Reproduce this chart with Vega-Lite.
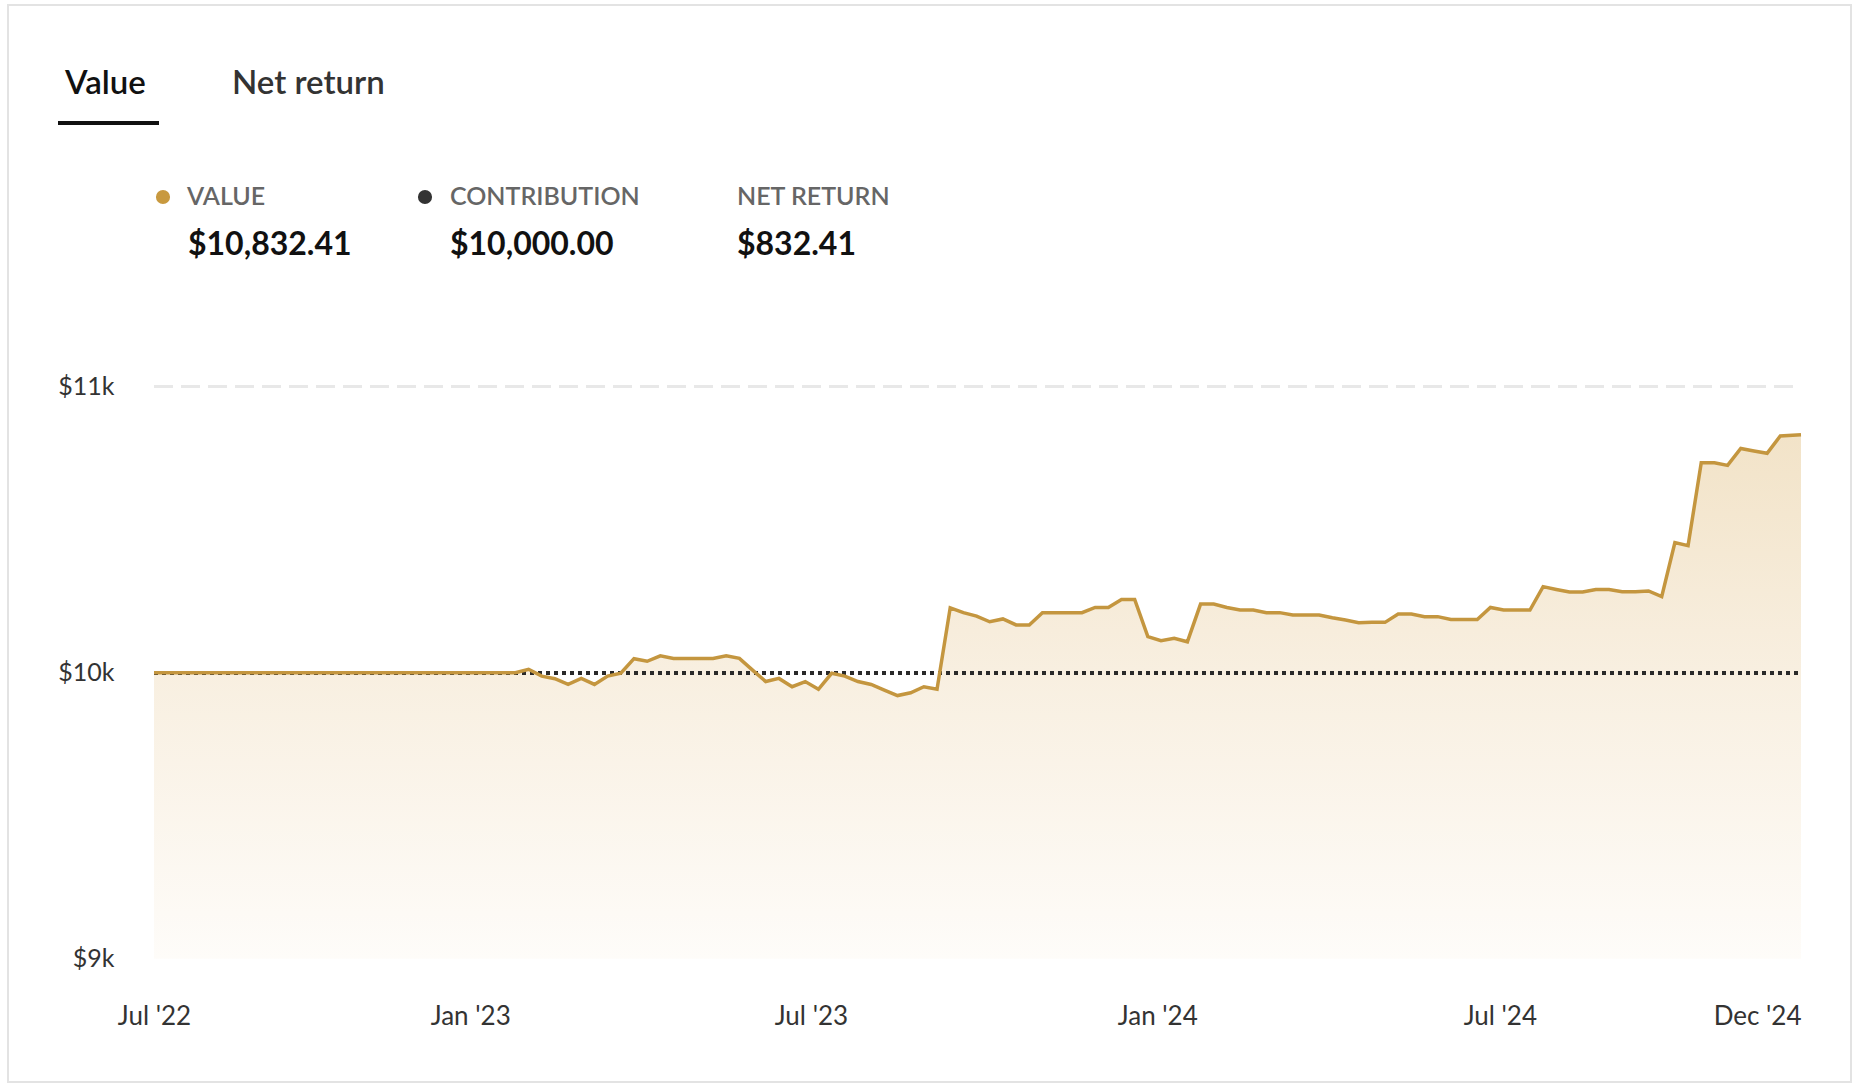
{
  "$schema": "https://vega.github.io/schema/vega-lite/v6.json",
  "width": 1843,
  "height": 1077,
  "autosize": {"type": "none"},
  "padding": {"left": 8, "top": 5, "right": 11, "bottom": 8},
  "background": "#ffffff",
  "config": {
    "view": {"stroke": "#e3e3e3", "strokeWidth": 2},
    "font": "Lato",
    "text": {"font": "Lato"}
  },
  "data": {
    "format": {"parse": {"date": "date:'%Y-%m-%d'"}},
    "values": [
      {"date": "2022-07-17", "value": 10000},
      {"date": "2022-07-20", "value": 10000},
      {"date": "2022-07-27", "value": 10000},
      {"date": "2022-08-03", "value": 10000},
      {"date": "2022-08-10", "value": 10000},
      {"date": "2022-08-17", "value": 10000},
      {"date": "2022-08-24", "value": 10000},
      {"date": "2022-08-31", "value": 10000},
      {"date": "2022-09-07", "value": 10000},
      {"date": "2022-09-14", "value": 10000},
      {"date": "2022-09-21", "value": 10000},
      {"date": "2022-09-28", "value": 10000},
      {"date": "2022-10-05", "value": 10000},
      {"date": "2022-10-12", "value": 10000},
      {"date": "2022-10-19", "value": 10000},
      {"date": "2022-10-26", "value": 10000},
      {"date": "2022-11-02", "value": 10000},
      {"date": "2022-11-09", "value": 10000},
      {"date": "2022-11-16", "value": 10000},
      {"date": "2022-11-23", "value": 10000},
      {"date": "2022-11-30", "value": 10000},
      {"date": "2022-12-07", "value": 10000},
      {"date": "2022-12-14", "value": 10000},
      {"date": "2022-12-21", "value": 10000},
      {"date": "2022-12-28", "value": 10000},
      {"date": "2023-01-04", "value": 10000},
      {"date": "2023-01-11", "value": 10000},
      {"date": "2023-01-18", "value": 10000},
      {"date": "2023-01-25", "value": 10000},
      {"date": "2023-02-01", "value": 10012},
      {"date": "2023-02-08", "value": 9988},
      {"date": "2023-02-15", "value": 9979},
      {"date": "2023-02-22", "value": 9959},
      {"date": "2023-03-01", "value": 9980},
      {"date": "2023-03-08", "value": 9959},
      {"date": "2023-03-15", "value": 9988},
      {"date": "2023-03-22", "value": 9998},
      {"date": "2023-03-29", "value": 10049},
      {"date": "2023-04-05", "value": 10040},
      {"date": "2023-04-12", "value": 10059},
      {"date": "2023-04-19", "value": 10050},
      {"date": "2023-04-26", "value": 10050},
      {"date": "2023-05-03", "value": 10050},
      {"date": "2023-05-10", "value": 10050},
      {"date": "2023-05-17", "value": 10059},
      {"date": "2023-05-24", "value": 10050},
      {"date": "2023-05-31", "value": 10009},
      {"date": "2023-06-07", "value": 9969},
      {"date": "2023-06-14", "value": 9980},
      {"date": "2023-06-21", "value": 9951},
      {"date": "2023-06-28", "value": 9969},
      {"date": "2023-07-05", "value": 9942},
      {"date": "2023-07-12", "value": 9998},
      {"date": "2023-07-19", "value": 9988},
      {"date": "2023-07-26", "value": 9969},
      {"date": "2023-08-02", "value": 9959},
      {"date": "2023-08-09", "value": 9939},
      {"date": "2023-08-16", "value": 9920},
      {"date": "2023-08-23", "value": 9930},
      {"date": "2023-08-30", "value": 9951},
      {"date": "2023-09-06", "value": 9942},
      {"date": "2023-09-13", "value": 10227},
      {"date": "2023-09-20", "value": 10210},
      {"date": "2023-09-27", "value": 10198},
      {"date": "2023-10-04", "value": 10178},
      {"date": "2023-10-11", "value": 10188},
      {"date": "2023-10-18", "value": 10167},
      {"date": "2023-10-25", "value": 10167},
      {"date": "2023-11-01", "value": 10210},
      {"date": "2023-11-08", "value": 10210},
      {"date": "2023-11-15", "value": 10210},
      {"date": "2023-11-22", "value": 10210},
      {"date": "2023-11-29", "value": 10228},
      {"date": "2023-12-06", "value": 10228},
      {"date": "2023-12-13", "value": 10256},
      {"date": "2023-12-20", "value": 10256},
      {"date": "2023-12-27", "value": 10126},
      {"date": "2024-01-03", "value": 10112},
      {"date": "2024-01-10", "value": 10120},
      {"date": "2024-01-17", "value": 10108},
      {"date": "2024-01-24", "value": 10240},
      {"date": "2024-01-31", "value": 10240},
      {"date": "2024-02-07", "value": 10228},
      {"date": "2024-02-14", "value": 10219},
      {"date": "2024-02-21", "value": 10219},
      {"date": "2024-02-28", "value": 10210},
      {"date": "2024-03-06", "value": 10210},
      {"date": "2024-03-13", "value": 10202},
      {"date": "2024-03-20", "value": 10202},
      {"date": "2024-03-27", "value": 10202},
      {"date": "2024-04-03", "value": 10192},
      {"date": "2024-04-10", "value": 10184},
      {"date": "2024-04-17", "value": 10175},
      {"date": "2024-04-24", "value": 10176},
      {"date": "2024-05-01", "value": 10176},
      {"date": "2024-05-08", "value": 10205},
      {"date": "2024-05-15", "value": 10205},
      {"date": "2024-05-22", "value": 10196},
      {"date": "2024-05-29", "value": 10196},
      {"date": "2024-06-05", "value": 10186},
      {"date": "2024-06-12", "value": 10186},
      {"date": "2024-06-19", "value": 10186},
      {"date": "2024-06-26", "value": 10228},
      {"date": "2024-07-03", "value": 10219},
      {"date": "2024-07-10", "value": 10219},
      {"date": "2024-07-17", "value": 10219},
      {"date": "2024-07-24", "value": 10301},
      {"date": "2024-07-31", "value": 10291},
      {"date": "2024-08-07", "value": 10282},
      {"date": "2024-08-14", "value": 10282},
      {"date": "2024-08-21", "value": 10291},
      {"date": "2024-08-28", "value": 10291},
      {"date": "2024-09-04", "value": 10283},
      {"date": "2024-09-11", "value": 10283},
      {"date": "2024-09-18", "value": 10286},
      {"date": "2024-09-25", "value": 10266},
      {"date": "2024-10-02", "value": 10455},
      {"date": "2024-10-09", "value": 10444},
      {"date": "2024-10-16", "value": 10734},
      {"date": "2024-10-23", "value": 10734},
      {"date": "2024-10-30", "value": 10725},
      {"date": "2024-11-06", "value": 10784},
      {"date": "2024-11-13", "value": 10775},
      {"date": "2024-11-20", "value": 10767},
      {"date": "2024-11-27", "value": 10828},
      {"date": "2024-12-08", "value": 10832.41}
    ]
  },
  "layer": [
    {
      "mark": {
        "type": "area",
        "opacity": 1,
        "line": false,
        "color": {
          "gradient": "linear",
          "x1": 0, "y1": 1, "x2": 0, "y2": 0,
          "stops": [
            {"offset": 0, "color": "#fefcf9"},
            {"offset": 0.55, "color": "#f8efe0"},
            {"offset": 1, "color": "#f2e3c8"}
          ]
        }
      },
      "encoding": {
        "x": {
          "field": "date", "type": "temporal",
          "scale": {"domain": [{"year": 2022, "month": 7, "date": 17}, {"year": 2024, "month": 12, "date": 8}], "range": [146, 1793]},
          "axis": {
            "title": null,
            "values": [
              {"year": 2022, "month": 7, "date": 17},
              {"year": 2023, "month": 1, "date": 1},
              {"year": 2023, "month": 7, "date": 1},
              {"year": 2024, "month": 1, "date": 1},
              {"year": 2024, "month": 7, "date": 1},
              {"year": 2024, "month": 12, "date": 8}
            ],
            "format": "%b '%y",
            "labelAlign": {"condition": {"test": "year(datum.value) == 2024 && month(datum.value) == 11", "value": "right"}, "value": "center"},
            "labelFlush": false,
            "labelOverlap": false,
            "labelBound": false,
            "ticks": false,
            "tickSize": 0,
            "domain": false,
            "grid": false,
            "labelPadding": 0,
            "labelBaseline": "middle",
            "offset": -66,
            "labelFont": "Lato",
            "labelFontSize": 26,
            "labelColor": "#333333"
          }
        },
        "y": {
          "field": "value", "type": "quantitative",
          "scale": {"domain": [9000, 11000], "range": [953.7, 381.7], "zero": false, "nice": false},
          "axis": {
            "title": null,
            "values": [9000, 10000, 11000],
            "labelExpr": "'$' + format(datum.value / 1000, 'd') + 'k'",
            "ticks": false,
            "tickSize": 0,
            "domain": false,
            "grid": false,
            "labelPadding": 0,
            "labelBaseline": "middle",
            "labelAlign": "right",
            "offset": -106,
            "labelFont": "Lato",
            "labelFontSize": 25,
            "labelColor": "#333333"
          }
        },
        "y2": {"datum": 9000}
      }
    },
    {
      "mark": {"type": "rule", "color": "#e8e8e8", "strokeWidth": 2, "strokeDash": [19, 8]},
      "encoding": {
        "x": {"datum": {"year": 2022, "month": 7, "date": 17}, "type": "temporal", "scale": {"domain": [{"year": 2022, "month": 7, "date": 17}, {"year": 2024, "month": 12, "date": 8}], "range": [146, 1793]}, "axis": null},
        "x2": {"datum": {"year": 2024, "month": 12, "date": 8}},
        "y": {"datum": 11000, "type": "quantitative", "scale": {"domain": [9000, 11000], "range": [953.7, 381.7], "zero": false, "nice": false}, "axis": null}
      }
    },
    {
      "mark": {"type": "rule", "color": "#2a2a2a", "strokeWidth": 3, "strokeDash": [4, 4]},
      "encoding": {
        "x": {"datum": {"year": 2022, "month": 7, "date": 17}, "type": "temporal", "scale": {"domain": [{"year": 2022, "month": 7, "date": 17}, {"year": 2024, "month": 12, "date": 8}], "range": [146, 1793]}, "axis": null},
        "x2": {"datum": {"year": 2024, "month": 12, "date": 8}},
        "y": {"datum": 10000, "type": "quantitative", "scale": {"domain": [9000, 11000], "range": [953.7, 381.7], "zero": false, "nice": false}, "axis": null}
      }
    },
    {
      "mark": {"type": "line", "color": "#c4963f", "strokeWidth": 3.5},
      "encoding": {
        "x": {"field": "date", "type": "temporal", "scale": {"domain": [{"year": 2022, "month": 7, "date": 17}, {"year": 2024, "month": 12, "date": 8}], "range": [146, 1793]}, "axis": null},
        "y": {"field": "value", "type": "quantitative", "scale": {"domain": [9000, 11000], "range": [953.7, 381.7], "zero": false, "nice": false}, "axis": null}
      }
    },
    {
      "data": {"values": [{"col": 0, "tab": "Value"}, {"col": 1, "tab": "Net return"}]},
      "mark": {"type": "text", "align": "left", "baseline": "middle", "fontSize": 33, "fontWeight": 600, "font": "Lato"},
      "encoding": {
        "x": {"field": "col", "type": "quantitative", "scale": {"domain": [0, 1], "range": [57, 224]}, "axis": null},
        "y": {"field": "col", "type": "quantitative", "scale": {"domain": [0, 1], "range": [79, 79]}, "axis": null},
        "text": {"field": "tab"},
        "color": {"condition": {"test": "datum.col == 0", "value": "#111111"}, "value": "#333333"}
      }
    },
    {
      "data": {"values": [{"tab": "Value"}]},
      "mark": {"type": "rule", "color": "#111111", "strokeWidth": 4},
      "encoding": {
        "x": {"datum": 0, "type": "quantitative", "scale": {"domain": [0, 1], "range": [50, 151]}, "axis": null},
        "x2": {"datum": 1},
        "y": {"datum": 0, "type": "quantitative", "scale": {"domain": [0, 1], "range": [118, 118]}, "axis": null}
      }
    },
    {
      "data": {"values": [{"col": 0, "series": "VALUE"}, {"col": 1, "series": "CONTRIBUTION"}]},
      "mark": {"type": "point", "filled": true, "size": 200, "opacity": 1, "strokeWidth": 0},
      "encoding": {
        "x": {"field": "col", "type": "quantitative", "scale": {"domain": [0, 1], "range": [155, 417]}, "axis": null},
        "y": {"field": "col", "type": "quantitative", "scale": {"domain": [0, 1], "range": [192, 192]}, "axis": null},
        "color": {"condition": {"test": "datum.col == 0", "value": "#c8993f"}, "value": "#333333"}
      }
    },
    {
      "data": {"values": [
        {"col": 0, "label": "VALUE", "amount": "$10,832.41"},
        {"col": 1, "label": "CONTRIBUTION", "amount": "$10,000.00"},
        {"col": 2, "label": "NET RETURN", "amount": "$832.41"}
      ]},
      "layer": [
        {
          "mark": {"type": "text", "align": "left", "baseline": "middle", "fontSize": 25, "fontWeight": 600, "font": "Lato", "color": "#666666"},
          "encoding": {
            "x": {"field": "col", "type": "quantitative", "scale": {"domain": [0, 1, 2], "range": [179, 442, 729]}, "axis": null},
            "y": {"field": "col", "type": "quantitative", "scale": {"domain": [0, 2], "range": [192, 192]}, "axis": null},
            "text": {"field": "label"}
          }
        },
        {
          "mark": {"type": "text", "align": "left", "baseline": "middle", "fontSize": 32, "fontWeight": "bold", "font": "Lato", "color": "#111111"},
          "encoding": {
            "x": {"field": "col", "type": "quantitative", "scale": {"domain": [0, 1, 2], "range": [180, 442, 729]}, "axis": null},
            "y": {"field": "col", "type": "quantitative", "scale": {"domain": [0, 2], "range": [240, 240]}, "axis": null},
            "text": {"field": "amount"}
          }
        }
      ],
      "resolve": {"scale": {"x": "independent", "y": "independent"}}
    }
  ],
  "resolve": {"scale": {"x": "independent", "y": "independent", "color": "independent"}}
}
